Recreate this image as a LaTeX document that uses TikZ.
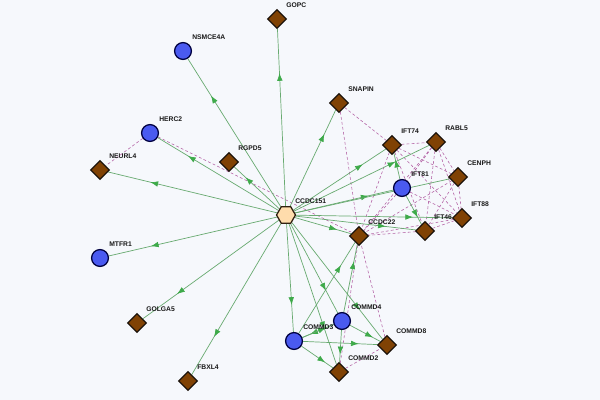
\documentclass[tikz,border=0pt]{standalone}
\usepackage{fontspec}
\setmainfont{Liberation Sans}
\usetikzlibrary{shapes.geometric,arrows.meta,decorations.markings,backgrounds}

\definecolor{bgcol}{RGB}{246,248,252}
\definecolor{edgegreen}{RGB}{104,170,112}
\definecolor{tipgreen}{RGB}{62,170,74}
\definecolor{dashpurple}{RGB}{178,96,164}
\definecolor{brownfill}{RGB}{128,66,4}
\definecolor{bluefill}{RGB}{74,90,240}
\definecolor{hexfill}{RGB}{255,220,172}

\tikzset{
  gene/.style={diamond, draw=black!85!brown, line width=0.9pt, fill=brownfill,
    minimum size=13.5pt, inner sep=0pt},
  prot/.style={circle, draw=blue!25!black, line width=0.9pt, fill=bluefill,
    minimum size=12pt, inner sep=0pt},
  hub/.style={regular polygon, regular polygon sides=6, draw=black!75!brown,
    line width=0.9pt, fill=hexfill, minimum size=13.5pt, inner sep=0pt},
  tag/.style={anchor=west, inner sep=0pt, text=black!90,
    font=\fontsize{4.8}{5}\selectfont\bfseries},
  link/.style={draw=edgegreen, line width=0.5pt, postaction={decorate},
    decoration={markings, mark=at position 0.75 with
      {\arrow{Latex[length=5.5pt,width=4pt,color=tipgreen]}}}},
  assoc/.style={draw=dashpurple, line width=0.4pt, dash pattern=on 2pt off 1.6pt}
}

\begin{document}
\begin{tikzpicture}[x=0.025cm,y=-0.025cm]
  % centre
  \node[hub] (ccdc151) at (286,215) {};

  % outer ring
  \node[gene] (gopc) at (277,19) {};
  \node[prot] (nsmce4a) at (183,51) {};
  \node[gene] (snapin) at (339,103) {};
  \node[prot] (herc2) at (150,133) {};
  \node[gene] (rgpd5) at (229,162) {};
  \node[gene] (neurl4) at (100,170) {};
  \node[prot] (mtfr1) at (100,258) {};
  \node[gene] (golga5) at (137,323) {};
  \node[gene] (fbxl4) at (188,381) {};

  % IFT cluster
  \node[gene] (ift74) at (392,145) {};
  \node[gene] (rabl5) at (436,142) {};
  \node[gene] (cenph) at (458,177) {};
  \node[prot] (ift81) at (402,188) {};
  \node[gene] (ift88) at (462,218) {};
  \node[gene] (ift46) at (425,231) {};
  \node[gene] (ccdc22) at (359,236) {};

  % COMMD cluster
  \node[prot] (commd4) at (342,321) {};
  \node[gene] (commd8) at (387,345) {};
  \node[prot] (commd3) at (294,341) {};
  \node[gene] (commd2) at (339,372) {};

  \foreach \n/\t in {ccdc151/CCDC151, gopc/GOPC, nsmce4a/NSMCE4A, snapin/SNAPIN,
      herc2/HERC2, rgpd5/RGPD5, neurl4/NEURL4, mtfr1/MTFR1, golga5/GOLGA5,
      fbxl4/FBXL4, ift74/IFT74, rabl5/RABL5, cenph/CENPH, ift81/IFT81,
      ift88/IFT88, ift46/IFT46, ccdc22/CCDC22, commd4/COMMD4, commd8/COMMD8,
      commd3/COMMD3, commd2/COMMD2}
    \node[tag] at ([shift={(9,-14)}]\n.center) {\t};

  \begin{scope}[on background layer]
    \fill[bgcol] (0,0) rectangle (600,400);
    % associations
    \foreach \a/\b in {herc2/neurl4, herc2/ccdc22, snapin/ift74, snapin/ccdc22,
        ift74/rabl5, ift74/cenph, ift74/ift88, ift74/ift46, ift74/ccdc22,
        rabl5/ift81, rabl5/cenph, rabl5/ift88, rabl5/ift46, rabl5/ccdc22,
        cenph/ift88, cenph/ift46, cenph/ccdc22, ift81/ift88, ift81/ccdc22,
        ift46/ift88, ift46/ccdc22, ift88/ccdc22,
        commd2/ccdc22, commd8/ccdc22, commd2/commd8}
      \draw[assoc] (\a) -- (\b);
    % interactions
    \foreach \b in {gopc, nsmce4a, herc2, rgpd5, neurl4, mtfr1, golga5, fbxl4,
        snapin, ift74, rabl5, ift81, cenph, ift88, ift46, ccdc22,
        commd3, commd4, commd8, commd2}
      \draw[link] (ccdc151) -- (\b);
    \foreach \a/\b in {ift81/ift74, ift81/ift46, commd3/ccdc22, commd4/ccdc22,
        commd4/commd2, commd4/commd3, commd3/commd4, commd3/commd8,
        commd4/commd8, commd3/commd2}
      \draw[link] (\a) -- (\b);
  \end{scope}
\end{tikzpicture}
\end{document}
